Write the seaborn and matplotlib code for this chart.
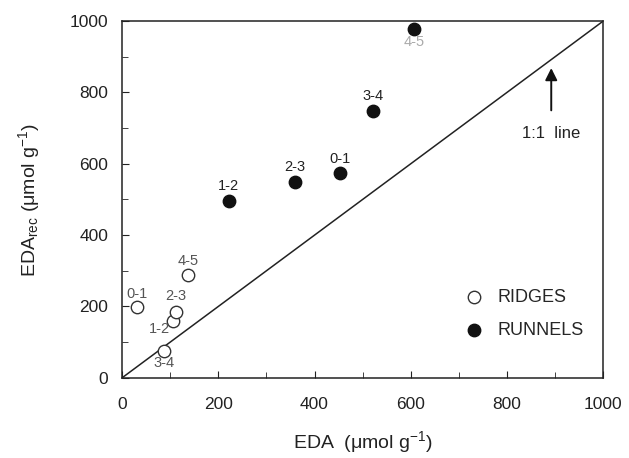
"""EDA recovered vs EDA for ridges and runnels, with 1:1 line."""

import matplotlib
matplotlib.use("Agg")
import matplotlib.pyplot as plt
import pandas as pd
import seaborn as sns
from matplotlib.ticker import MultipleLocator

# depth intervals (cm)
ridge_depth = ["0-1", "1-2", "2-3", "3-4", "4-5"]
ridge_eda = [32, 105, 112, 88, 138]
ridge_rec = [198, 160, 185, 76, 287]

runnel_depth = ["0-1", "1-2", "2-3", "3-4", "4-5"]
runnel_eda = [453, 222, 360, 521, 607]
runnel_rec = [573, 496, 550, 748, 977]

df = pd.concat(
    [
        pd.DataFrame({"eda": ridge_eda, "rec": ridge_rec, "depth": ridge_depth, "site": "RIDGES"}),
        pd.DataFrame({"eda": runnel_eda, "rec": runnel_rec, "depth": runnel_depth, "site": "RUNNELS"}),
    ],
    ignore_index=True,
)

sns.set_style("ticks")
plt.rcParams["font.family"] = ["Liberation Sans", "DejaVu Sans"]
plt.rcParams["mathtext.fontset"] = "custom"
plt.rcParams["mathtext.rm"] = "Liberation Sans"
plt.rcParams["mathtext.it"] = "Liberation Sans"

fig = plt.figure(figsize=(6.29, 4.58), dpi=100)
ax = fig.add_axes([0.194, 0.175, 0.765, 0.779])

ax.plot([0, 1000], [0, 1000], color="#222222", lw=1.1, zorder=1)

ridges = df[df["site"] == "RIDGES"]
runnels = df[df["site"] == "RUNNELS"]
sns.scatterplot(data=ridges, x="eda", y="rec", ax=ax, s=80, marker="o",
                facecolor="white", edgecolor="#333333", linewidth=1.0,
                label="RIDGES", zorder=3)
sns.scatterplot(data=runnels, x="eda", y="rec", ax=ax, s=80, marker="o",
                color="#111111", edgecolor="#111111", linewidth=1.0,
                label="RUNNELS", zorder=3)

# depth labels
ridge_off = {"0-1": (0, 16), "1-2": (-28, -42), "2-3": (0, 24), "3-4": (0, -54), "4-5": (0, 22)}
for _, r in ridges.iterrows():
    dx, dy = ridge_off[r["depth"]]
    ax.text(r["eda"] + dx, r["rec"] + dy, r["depth"], ha="center", va="bottom",
            fontsize=10.5, color="#555555")
for _, r in runnels.iterrows():
    dy = -56 if r["depth"] == "4-5" else 22
    ax.text(r["eda"], r["rec"] + dy, r["depth"], ha="center", va="bottom",
            fontsize=10.5, color="#aaaaaa" if r["depth"] == "4-5" else "#222222")

ax.annotate("", xy=(892, 876), xytext=(892, 742),
            arrowprops=dict(arrowstyle="-|>", color="#111111", lw=1.4,
                            mutation_scale=18))
ax.text(892, 686, "1:1  line", ha="center", va="center", fontsize=12, color="#222222")

ax.set_xlim(0, 1000)
ax.set_ylim(0, 1000)
ax.xaxis.set_major_locator(MultipleLocator(200))
ax.yaxis.set_major_locator(MultipleLocator(200))
ax.xaxis.set_minor_locator(MultipleLocator(100))
ax.yaxis.set_minor_locator(MultipleLocator(100))
ax.tick_params(which="both", direction="in", top=False, right=False,
               labelsize=12.5, colors="#222222")
ax.tick_params(axis="x", pad=14)
ax.tick_params(axis="y", pad=10)
ax.tick_params(which="major", length=5)
ax.tick_params(which="minor", length=4)
for sp in ax.spines.values():
    sp.set_linewidth(1.1)
    sp.set_color("#222222")

ax.set_xlabel(r"EDA  ($\mu$mol g$^{-1}$)", fontsize=14, color="#222222", labelpad=12)
ax.set_ylabel(r"EDA$_{\rm rec}$ ($\mu$mol g$^{-1}$)", fontsize=14, color="#222222", labelpad=20)

ax.legend(loc="upper left", bbox_to_anchor=(0.66, 0.295), frameon=False,
          fontsize=13, labelspacing=0.9, handletextpad=0.3, markerscale=1.0)

fig.savefig("out.png", dpi=100)
